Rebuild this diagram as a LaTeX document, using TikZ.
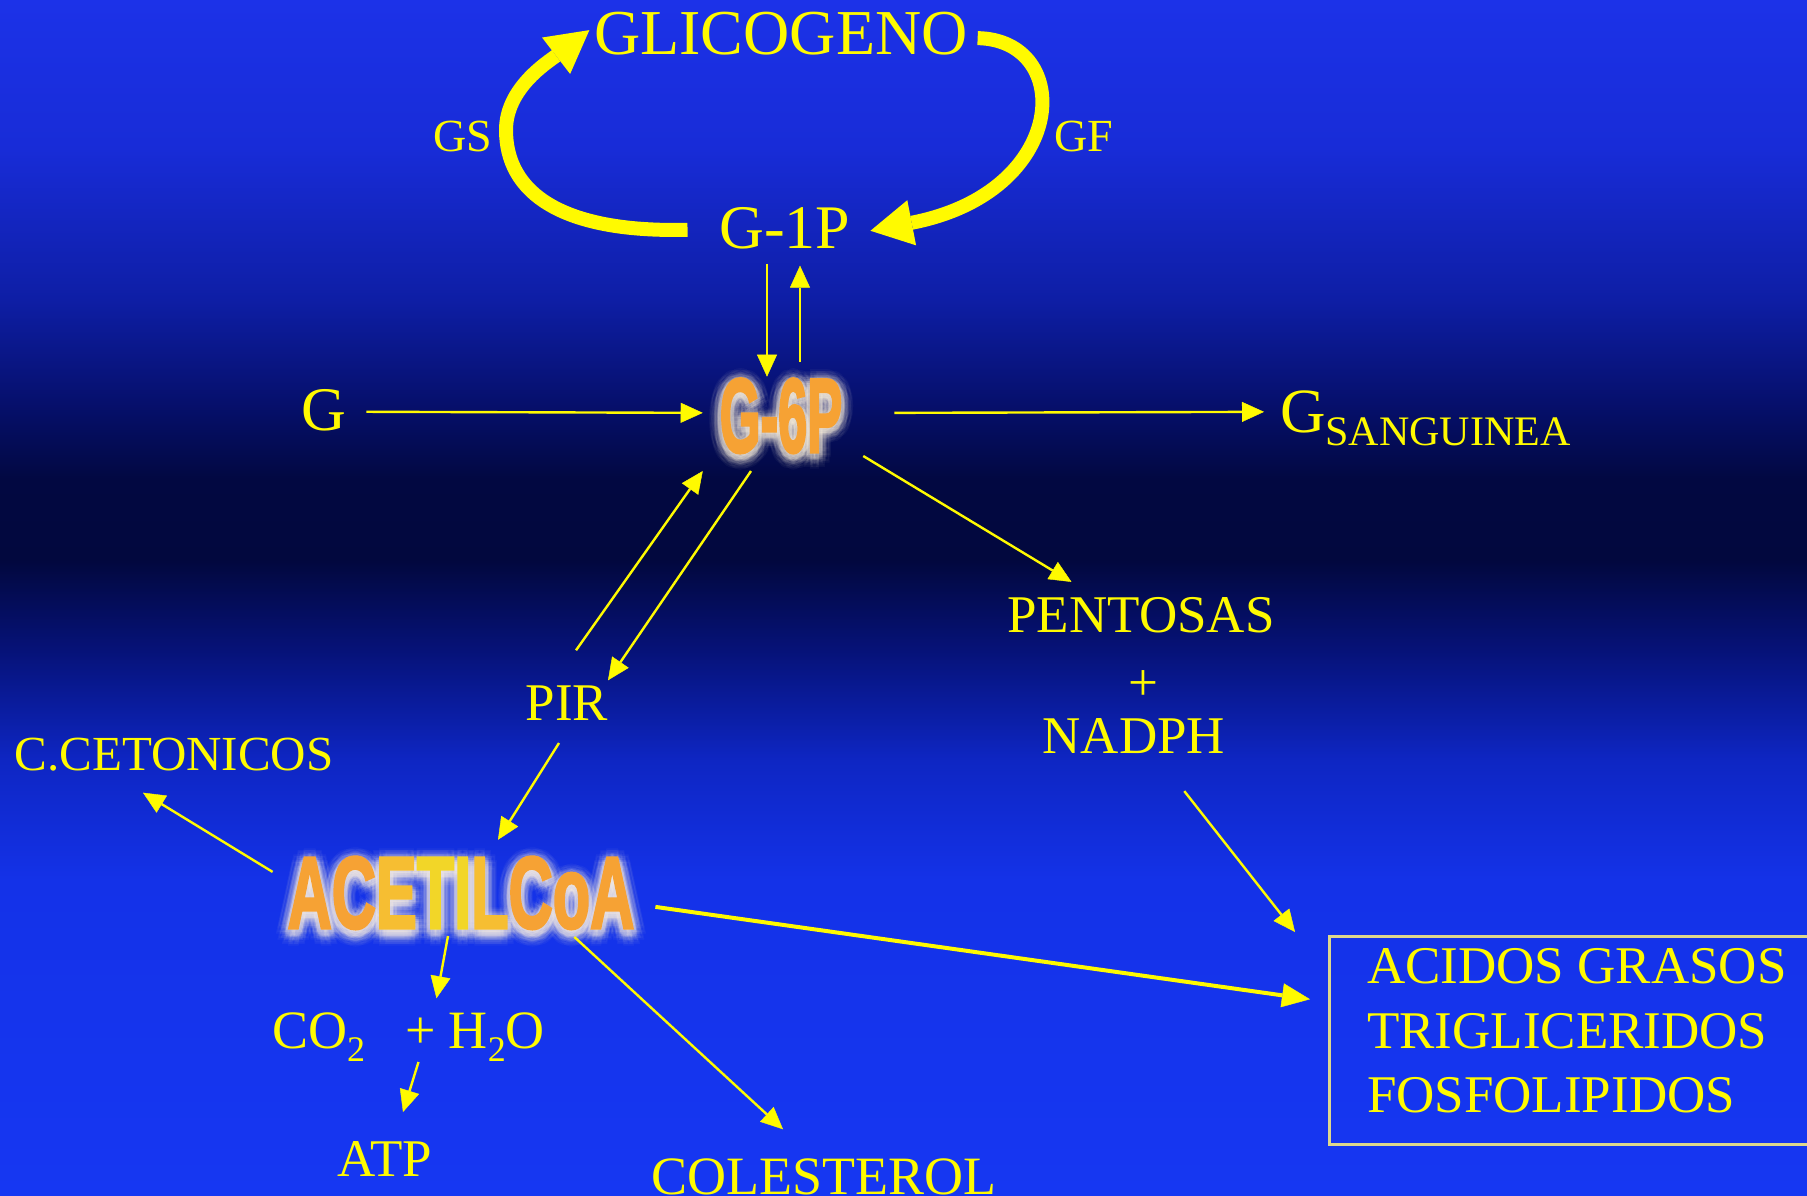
\documentclass[tikz,border=0pt]{standalone}
\usepackage{fontspec}
\usepackage{graphicx}
\setmainfont{Liberation Serif}
\newfontfamily\heavysans{Liberation Sans}[BoldFeatures={FakeBold=3}]
\usetikzlibrary{arrows.meta,calc}
\definecolor{ylw}{RGB}{255,250,0}
\definecolor{org}{RGB}{246,162,52}
\definecolor{orgy}{RGB}{246,190,50}
\definecolor{ylwo}{RGB}{242,214,40}
\definecolor{glowc}{RGB}{255,245,225}
\definecolor{boxline}{RGB}{222,216,140}
\definecolor{c0}{RGB}{28,50,232}
\definecolor{c1}{RGB}{24,44,215}
\definecolor{c2}{RGB}{14,30,165}
\definecolor{c3}{RGB}{6,16,110}
\definecolor{c4}{RGB}{2,8,65}
\definecolor{c5}{RGB}{2,8,62}
\definecolor{c6}{RGB}{6,18,120}
\definecolor{c7}{RGB}{14,38,195}
\definecolor{c8}{RGB}{20,50,232}
\definecolor{c9}{RGB}{22,55,242}
\pgfdeclareverticalshading{bgsh}{100bp}{color(0bp)=(c9); color(25bp)=(c9); color(38.21bp)=(c8); color(43.23bp)=(c7); color(47.83bp)=(c6); color(51.59bp)=(c5); color(54.93bp)=(c4); color(58.28bp)=(c3); color(62.46bp)=(c2); color(68.73bp)=(c1); color(75bp)=(c0); color(100bp)=(c0)}
\newcommand{\setfs}[1]{\fontsize{#1}{#1}\selectfont}
\newcommand{\heavy}[3]{\scalebox{#1}[1]{\heavysans\bfseries\setfs{#2}#3}}
\newcommand{\acetcol}{{\color{org}A}{\color{org}C}{\color{orgy}E}{\color{ylwo}T}{\color{ylwo}I}{\color{orgy}L}{\color{org}C}{\color{org}o}{\color{org}A}}
\begin{document}
\begin{tikzpicture}[x=1pt,y=-1pt,
  lbl/.style={text=ylw, inner sep=0pt, outer sep=0pt, anchor=base},
  glow/.style={text=glowc, inner sep=0pt, anchor=base},
  arr/.style={draw=ylw, line width=2.4pt, line cap=butt, -{Triangle[length=22pt,width=20pt,line width=0.4pt]}},
  thickarr/.style={draw=ylw, line width=4pt, -{Triangle[length=28pt,width=24pt,line width=0.4pt]}},
  bigarr/.style={draw=ylw, line width=14pt, line cap=butt, -{Triangle[length=42pt,width=46pt,line width=0pt]}}]
\useasboundingbox (0,0) rectangle (1807,1196);
\fill[shading=bgsh] (0,0) rectangle (1807,1196);

% glows
\foreach \r/\op in {12/0.04,8/0.07,4/0.11}{
  \foreach \a in {0,30,...,330}{
    \node[glow, text opacity=\op, name=ga-\a-\r] at ($(461,932)+(\a:\r)$) {\heavy{0.6}{102}{ACETILCoA}};
    \node[glow, text opacity=\op, name=gb-\a-\r] at ($(781,455)+(\a:\r)$) {\heavy{0.5}{105}{G-6P}};
  }
}

% text nodes
\node[lbl] (glic) at (781,55) {\setfs{64}GLICOGENO};
\node[lbl] (gs) at (463,152) {\setfs{46}GS};
\node[lbl] (gf) at (1084,152) {\setfs{46}GF};
\node[lbl] (g1p) at (785,248) {\setfs{62}G-1P};
\node[lbl] (g) at (324,430) {\setfs{62}G};
\node[lbl, anchor=base west] (gsang) at (1280,432) {\setfs{63}G\raisebox{-13pt}{\setfs{42}SANGUINEA}};
\node[lbl, text=org] (g6p) at (781,452) {\heavy{0.5}{105}{G-6P}};
\node[lbl] (pent) at (1141,632) {\setfs{53}PENTOSAS};
\node[lbl] (plus) at (1143,700) {\setfs{53}+};
\node[lbl] (nadph) at (1134,753) {\setfs{53}NADPH};
\node[lbl] (pir) at (567,720) {\setfs{53}PIR};
\node[lbl] (ccet) at (174,770) {\setfs{49}C.CETONICOS};
\node[lbl] (acet) at (461,928) {\heavy{0.6}{102}{\acetcol}};
\node[lbl, anchor=base west] (co2) at (272,1048) {\setfs{54}CO\raisebox{-13pt}{\setfs{36}2}\hspace{40pt}+ H\raisebox{-13pt}{\setfs{36}2}O};
\node[lbl] (atp) at (385,1176) {\setfs{53}ATP};
\node[lbl] (col) at (824,1194) {\setfs{54}COLESTEROL};
\node[draw=boxline, line width=2.5pt, anchor=north west, minimum width=520pt, minimum height=208pt, inner sep=0pt] (box) at (1328,935) {};
\node[lbl, anchor=base west] (ag) at (1367,983) {\setfs{53}ACIDOS GRASOS};
\node[lbl, anchor=base west] (tg) at (1367,1048) {\setfs{53}TRIGLICERIDOS};
\node[lbl, anchor=base west] (fl) at (1367,1112) {\setfs{53}FOSFOLIPIDOS};

% big cycle arrows
\draw[bigarr] ($(g1p.west)+(-32,2)$) .. controls (560,233) and (506,192) .. (506,130) .. controls (506,88) and (548,62) .. ($(glic.west)+(-5,-4)$);
\draw[bigarr] ($(glic.east)+(10,4)$) .. controls (1075,40) and (1070,192) .. ($(g1p.east)+(20,3)$);

% thin arrows
\draw[arr] ($(g1p.south)+(-18,15)$) -- ($(g6p.north)+(-14,-2)$);
\draw[arr] ($(g6p.north)+(19,-17)$) -- ($(g1p.south)+(15,17)$);
\draw[arr] ($(g.east)+(20,2)$) -- ($(g6p.west)+(-17,-3)$);
\draw[arr] ($(g6p.east)+(52,-3)$) -- ($(gsang.west)+(-16,-6)$);
\draw[arr] ($(g6p.south east)+(21,3)$) -- ($(pent.north west)+(64,-15)$);
\draw[arr] ($(pir.north)+(9,-35)$) -- ($(g6p.south west)+(-17,18)$);
\draw[arr] ($(g6p.south)+(-30,18)$) -- ($(pir.north)+(41,-5)$);
\draw[arr] ($(pir.south)+(-8,23)$) -- ($(acet.north)+(37,-17)$);
\draw[arr] ($(acet.west)+(-15,-21)$) -- ($(ccet.south)+(-31,22)$);
\draw[arr] ($(acet.south)+(-13,7)$) -- ($(co2.north)+(28,-14)$);
\draw[arr] ($(co2.south)+(10,1)$) -- ($(atp.north)+(18,-29)$);
\draw[arr] ($(acet.south east)+(-60,8)$) -- ($(col.north)+(-41,-29)$);
\draw[arr] ($(nadph.south east)+(-41,38)$) -- ($(box.north west)+(-33,-3)$);
\draw[thickarr] ($(acet.east)+(21,14)$) -- ($(box.west)+(-18,-41)$);
\end{tikzpicture}
\end{document}
